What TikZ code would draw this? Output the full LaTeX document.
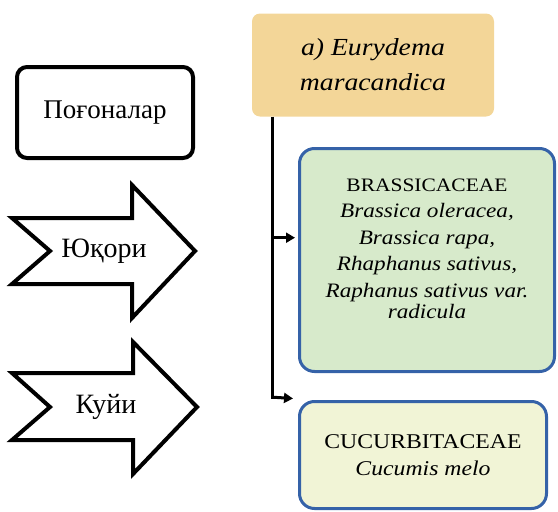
\documentclass[tikz,border=0pt]{standalone}
\usepackage{fontspec}
\setmainfont{Liberation Serif}[FakeStretch=1.13]
\newfontfamily\cyrfont{Liberation Serif}
\usetikzlibrary{arrows.meta,calc}
\definecolor{boxblue}{HTML}{3562A8}
\definecolor{tanfill}{HTML}{F3D698}
\definecolor{greenfill}{HTML}{D7EACB}
\definecolor{yellowfill}{HTML}{F1F4D6}
\tikzset{
  blackbox/.style={draw=black,line width=4pt,rounded corners=10pt,fill=white,
    minimum width=176pt,minimum height=91pt,inner sep=0pt,font=\cyrfont\fontsize{27}{30}\selectfont},
  bigarrow/.style={draw=black,line width=4pt,fill=white,miter limit=10},
  arrowtext/.style={inner sep=0pt,font=\cyrfont\fontsize{28}{30}\selectfont},
  tanbox/.style={fill=tanfill,rounded corners=8pt,minimum width=242pt,minimum height=103pt,
    inner sep=0pt,align=center,font=\fontsize{24.5}{35}\selectfont\itshape},
  familybox/.style={draw=boxblue,line width=3pt,rounded corners=15pt,inner sep=0pt},
  familytext/.style={inner sep=0pt,align=center,font=\fontsize{19}{26.5}\selectfont},
  cucutext/.style={inner sep=0pt,align=center,font=\fontsize{21}{27}\selectfont},
  conn/.style={line width=3pt,-{Triangle[length=9pt,width=10pt]},shorten >=3pt},
}
\newcommand{\speciesname}[1]{{\fontsize{20.5}{26.5}\selectfont\itshape #1}}
\begin{document}
\begin{tikzpicture}[x=1pt,y=-1pt]
\useasboundingbox (0,0) rectangle (558,512);
% left column
\node[blackbox] (pog) at (105,112.5) {Поғоналар};
\draw[bigarrow] (12,218) -- (132,218) -- (132,185) -- (195,251) -- (132,318) -- (132,284) -- (12,284) -- (50,251) -- cycle;
\node[arrowtext] (yuk) at (104,251) {Юқори};
\draw[bigarrow] (12,373) -- (133,373) -- (133,342) -- (197,407) -- (133,474) -- (133,440) -- (12,440) -- (50,407) -- cycle;
\node[arrowtext] (kuy) at (106,407) {Куйи};
% right column
\node[tanbox] (top) at (373,65) {a) Eurydema\\maracandica};
\node[familybox,fill=greenfill,minimum width=255pt,minimum height=223pt] (bras) at (427,260) {};
\node[familytext] (brastext) at (427,249) {BRASSICACEAE\\
  \speciesname{Brassica oleracea,}\\
  \speciesname{Brassica rapa,}\\
  \speciesname{Rhaphanus sativus,}\\
  \speciesname{Raphanus sativus var.}\\[-5pt]
  \speciesname{radicula}};
\node[familybox,fill=yellowfill,minimum width=247pt,minimum height=107pt,cucutext] (cucu) at (423,455) {CUCURBITACEAE\\\textit{Cucumis melo}};
% connectors
\coordinate (trunk) at ($(top.south west)+(21,0)$);
\coordinate (mid) at ($(trunk)+(0,121)$);
\coordinate (low) at ($(trunk)+(0,282)$);
\draw[line width=3pt] (trunk) -- (low);
\draw[conn] (mid) -- (mid -| bras.west);
\draw[conn] ($(low)+(0,-1.5)$) -- ($(low -| cucu.west)+(-2,0)$);
\end{tikzpicture}
\end{document}
